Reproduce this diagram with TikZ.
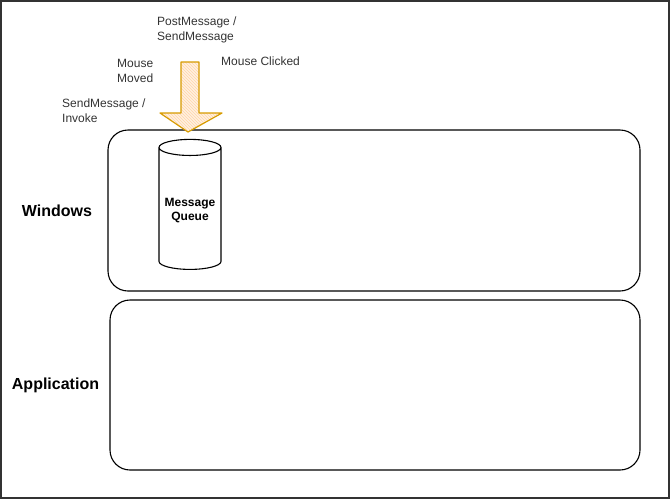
\documentclass[tikz,border=0pt]{standalone}
\usepackage{fontspec}
\setmainfont{Liberation Sans}
\usepackage{tikz}
\usetikzlibrary{positioning,calc,shapes.geometric,patterns}
\definecolor{arrowline}{RGB}{215,155,0}
\definecolor{arrowfill}{RGB}{255,214,170}
\tikzstyle{layer} = [draw, rounded corners=20pt, line width=1.1pt]
\tikzstyle{queue} = [draw, cylinder, shape border rotate=90, aspect=0.28, line width=1.1pt, minimum width=62pt, minimum height=130pt, align=center, font=\fontsize{12}{14}\selectfont\bfseries]
\tikzstyle{data} = [align=left, anchor=west, inner sep=0pt, font=\fontsize{12}{15}\selectfont, text=black!80]
\tikzstyle{title} = [font=\fontsize{16}{18}\selectfont\bfseries]

\begin{document}
\begin{tikzpicture}[x=1pt, y=-1pt]
	\useasboundingbox (0,0) rectangle (671,501);
	\draw [line width=1.3pt, black!80] (1,1) rectangle (669,498);
	\node (win) [layer, minimum width=532pt, minimum height=161pt] at (374,210.5) {};
	\node (app) [layer, minimum width=530pt, minimum height=170pt] at (375,385) {};
	\node (winlbl) [title] at (57,211) {Windows};
	\node (applbl) [title] at (55.5,385) {Application};
	\node (mq) [queue] at (190,210.5) {Message\\Queue};
	\node (post) [data] at (157,29.5) {PostMessage /\\SendMessage};
	\node (moved) [data] at (117,71) {Mouse\\Moved};
	\node (click) [data] at (221,61) {Mouse Clicked};
	\node (invoke) [data] at (62,111) {SendMessage /\\Invoke};
	% input arrow into the queue
	\coordinate (tip) at (188,132);
	\draw [arrowline, line width=1.2pt, line join=round,
		preaction={fill=arrowfill!35}, pattern=north west lines, pattern color=arrowfill]
		(181,62) -- (199,62) -- (199,113) -- (222,113) -- (tip) -- (160,113) -- (181,113) -- cycle;
\end{tikzpicture}
\end{document}
